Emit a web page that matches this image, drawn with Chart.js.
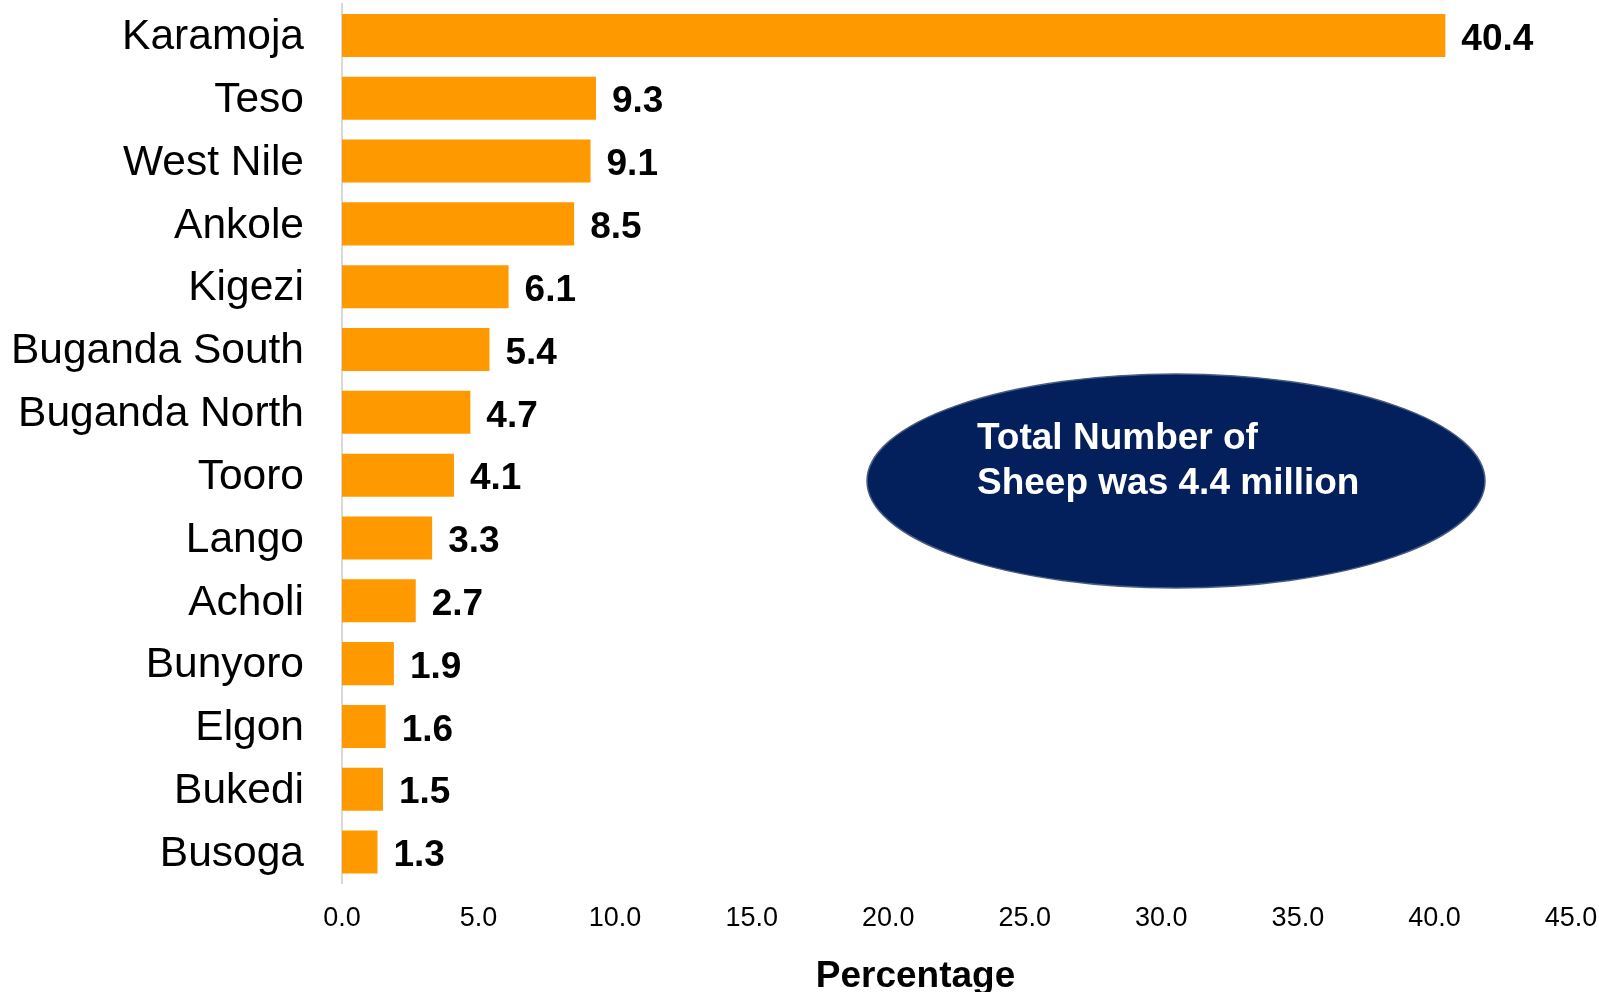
<!DOCTYPE html>
<html>
<head>
<meta charset="utf-8">
<script src="https://cdn.jsdelivr.net/npm/chart.js@4/dist/chart.umd.min.js"></script>
<style>
  html, body { margin: 0; padding: 0; background: #fff; }
  #wrap { width: 1599px; height: 992px; position: relative; }
</style>
</head>
<body>
<div id="wrap"><canvas id="c" width="1599" height="992"></canvas></div>
<script>
const regions = ["Karamoja","Teso","West Nile","Ankole","Kigezi","Buganda South","Buganda North","Tooro","Lango","Acholi","Bunyoro","Elgon","Bukedi","Busoga"];
const sheepShare = [40.4, 9.3, 9.1, 8.5, 6.1, 5.4, 4.7, 4.1, 3.3, 2.7, 1.9, 1.6, 1.5, 1.3];
const xTicks = [0, 5, 10, 15, 20, 25, 30, 35, 40, 45];
const axisTitle = "Percentage";
const noteLines = ["Total Number of", "Sheep was 4.4 million"];

const FONT = "'Liberation Sans', Arial, sans-serif";

const valueLabels = {
  id: 'valueLabels',
  afterDatasetsDraw(chart) {
    const ctx = chart.ctx;
    const meta = chart.getDatasetMeta(0);
    ctx.save();
    ctx.font = "bold 37px " + FONT;
    ctx.fillStyle = "#000";
    ctx.textAlign = "left";
    ctx.textBaseline = "middle";
    meta.data.forEach((bar, i) => {
      ctx.fillText(sheepShare[i].toFixed(1), bar.x + 16, bar.y + 4);
    });
    ctx.restore();
  }
};

const extras = {
  id: 'extras',
  afterDraw(chart) {
    const ctx = chart.ctx;
    const x = chart.scales.x;
    ctx.save();
    // axis title
    ctx.font = "bold 37px " + FONT;
    ctx.fillStyle = "#000";
    ctx.textAlign = "center";
    ctx.textBaseline = "middle";
    ctx.fillText(axisTitle, x.getPixelForValue(21), 977);
    // ellipse note
    ctx.beginPath();
    ctx.ellipse(1176, 481, 309, 107, 0, 0, Math.PI * 2);
    ctx.fillStyle = "#03205C";
    ctx.fill();
    ctx.lineWidth = 1.5;
    ctx.strokeStyle = "#4A5D80";
    ctx.stroke();
    ctx.fillStyle = "#fff";
    ctx.textAlign = "left";
    ctx.font = "bold 37px " + FONT;
    ctx.fillText(noteLines[0], 977, 439);
    ctx.fillText(noteLines[1], 977, 484);
    ctx.restore();
  }
};

new Chart(document.getElementById('c'), {
  type: 'bar',
  data: {
    labels: regions,
    datasets: [{
      data: sheepShare,
      backgroundColor: '#FF9900',
      borderWidth: 0,
      barPercentage: 0.685,
      categoryPercentage: 1.0
    }]
  },
  options: {
    indexAxis: 'y',
    responsive: false,
    animation: false,
    devicePixelRatio: 1,
    layout: { padding: { top: 4, right: 28, left: 0, bottom: 0 } },
    plugins: { legend: { display: false }, tooltip: { enabled: false } },
    scales: {
      x: {
        min: 0, max: 45,
        afterBuildTicks(axis) { axis.ticks = xTicks.map(v => ({ value: v })); },
        afterFit(axis) {
          axis.height = 108.5;
          axis.paddingLeft = 0; axis.paddingRight = 0;
          axis.paddingTop = 0; axis.paddingBottom = 0;
        },
        grid: { display: false, drawTicks: false },
        border: { display: false },
        ticks: {
          padding: 19,
          color: '#000',
          font: { size: 27, family: FONT },
          maxRotation: 0,
          callback: v => Number(v).toFixed(1)
        }
      },
      y: {
        afterFit(axis) {
          axis.width = 342;
          axis.paddingLeft = 0; axis.paddingRight = 0;
          axis.paddingTop = 0; axis.paddingBottom = 0;
        },
        grid: { display: false, drawTicks: false },
        border: { display: true, color: '#D9D9D9', width: 2 },
        ticks: {
          padding: 38,
          labelOffset: 2,
          color: '#000',
          font: { size: 42.5, family: FONT }
        }
      }
    }
  },
  plugins: [valueLabels, extras]
});
</script>
</body>
</html>
